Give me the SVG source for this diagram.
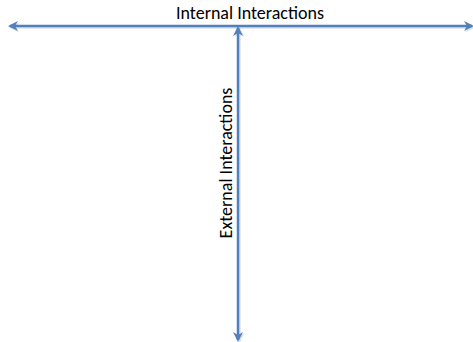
<svg xmlns="http://www.w3.org/2000/svg" width="473" height="342" viewBox="0 0 473 342">
  <style>
    .axis { stroke: #4f81bd; stroke-width: 2.5; fill: none; }
    .shadow { stroke: #8a8a8a; stroke-width: 2.5; fill: none; opacity: 0.25; }
    .label { font-family: Calibri, Carlito, "Open Sans", "Liberation Sans", sans-serif; font-size: 18px; fill: #000; }
  </style>
  <defs>
    <marker id="head" viewBox="0 0 10 10" refX="8" refY="5" markerWidth="4" markerHeight="4" orient="auto-start-reverse" markerUnits="strokeWidth">
      <path d="M0,0 L10,5 L0,10 L3,5 Z" fill="#4f81bd"/>
    </marker>
    <marker id="headShadow" viewBox="0 0 10 10" refX="8" refY="5" markerWidth="4" markerHeight="4" orient="auto-start-reverse" markerUnits="strokeWidth">
      <path d="M0,0 L10,5 L0,10 L3,5 Z" fill="#8a8a8a"/>
    </marker>
  </defs>
  <rect width="473" height="342" fill="#ffffff"/>
  <g id="connectors">
    <line class="shadow" x1="11" y1="27.5" x2="473" y2="27.5" marker-start="url(#headShadow)" marker-end="url(#headShadow)"/>
    <line class="shadow" x1="239.5" y1="29" x2="239.5" y2="341" marker-start="url(#headShadow)" marker-end="url(#headShadow)"/>
    <line class="axis" x1="10" y1="26" x2="472" y2="26" marker-start="url(#head)" marker-end="url(#head)"/>
    <line class="axis" x1="238" y1="28" x2="238" y2="340" marker-start="url(#head)" marker-end="url(#head)"/>
  </g>
  <g id="internal">
    <text class="label" x="250" y="19" text-anchor="middle">Internal Interactions</text>
  </g>
  <g id="external">
    <text class="label" transform="translate(232,163) rotate(-90)" text-anchor="middle">External Interactions</text>
  </g>
</svg>
